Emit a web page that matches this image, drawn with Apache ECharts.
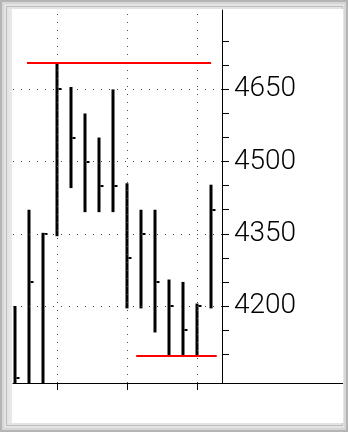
<!DOCTYPE html>
<html>
<head>
<meta charset="utf-8">
<script src="https://cdn.jsdelivr.net/npm/echarts@6/dist/echarts.min.js"></script>
<style>
  html, body { margin: 0; padding: 0; background: #fff; }
  #chart { width: 348px; height: 432px; }
</style>
</head>
<body>
<div id="chart"></div>
<script>
// Session index of each bar (left to right)
const sessions = [0, 1, 2, 3, 4, 5, 6, 7, 8, 9, 10, 11, 12, 13, 14];
// High / low / close per session
const highs  = [4200, 4400, 4352, 4705, 4655, 4600, 4550, 4650, 4455, 4400, 4400, 4255, 4250, 4205, 4452];
const lows   = [4030, 4030, 4030, 4345, 4445, 4395, 4395, 4395, 4195, 4195, 4145, 4096, 4096, 4096, 4195];
const closes = [4050, 4250, 4350, 4650, 4550, 4500, 4450, 4450, 4300, 4350, 4250, 4200, 4150, 4200, 4400];

// Price axis labels, ticks and dotted guide lines
const priceLabels = [4200, 4350, 4500, 4650];
const priceTicks = [4100, 4150, 4200, 4250, 4300, 4350, 4400, 4450, 4500, 4550, 4600, 4650, 4700, 4750];
const sessionMarks = [3, 8, 13];

// Range markers: highest high and lowest low
const rangeHigh = { value: 4705, from: 0.85, to: 14.0 };
const rangeLow  = { value: 4096, from: 8.65, to: 14.4 };

const ohlc = sessions.map((s, i) => [s, highs[i], lows[i], closes[i]]);

const chart = echarts.init(document.getElementById('chart'), null, { renderer: 'canvas' });

const GRID = { left: 13, top: 10, width: 209, height: 373 };
const dotted = { color: '#4a4a4a', width: 1, type: [1, 7] };

chart.setOption({
  animation: false,
  backgroundColor: '#d6d6d6',
  graphic: [
    { type: 'rect', z: -10, shape: { x: 1, y: 1, width: 346, height: 430 }, style: { fill: 'none', stroke: '#b4b4b4', lineWidth: 2 } },
    { type: 'rect', z: -10, shape: { x: 4, y: 4, width: 340, height: 424 }, style: { fill: '#e4e4e4' } },
    { type: 'rect', z: -10, shape: { x: 6.5, y: 6.5, width: 336, height: 419 }, style: { fill: 'none', stroke: '#bdbdbd', lineWidth: 1 } },
    { type: 'rect', z: -10, shape: { x: 9, y: 9, width: 334, height: 414 }, style: { fill: '#e8e8e8' } },
    { type: 'rect', z: -10, shape: { x: 12, y: 9, width: 331, height: 414 }, style: { fill: '#ffffff' } },
    // time axis baseline continues under the price labels
    { type: 'line', z: 5, shape: { x1: 222, y1: 383.5, x2: 343, y2: 383.5 }, style: { stroke: '#000', lineWidth: 1 } }
  ],
  grid: GRID,
  xAxis: {
    type: 'value',
    min: -0.15,
    max: 14.78,
    axisLine: { show: true, onZero: false, lineStyle: { color: '#000', width: 1 } },
    axisTick: { show: true, customValues: sessionMarks, length: 7, lineStyle: { color: '#000' } },
    axisLabel: { show: false },
    splitLine: { show: false }
  },
  yAxis: {
    type: 'value',
    position: 'right',
    min: 4040,
    max: 4815,
    axisLine: { show: true, onZero: false, lineStyle: { color: '#000', width: 1 } },
    axisTick: { show: true, customValues: priceTicks, length: 7, lineStyle: { color: '#000' } },
    axisLabel: {
      show: true,
      customValues: priceLabels,
      formatter: v => String(v),
      margin: 12,
      color: '#000',
      fontFamily: 'Roboto',
      fontSize: 28,
      fontWeight: 300
    },
    splitLine: { show: false }
  },
  series: [
    {
      // dotted guide lines
      type: 'line',
      data: [],
      z: 1,
      silent: true,
      markLine: {
        silent: true,
        symbol: 'none',
        label: { show: false },
        lineStyle: dotted,
        data: priceLabels.map(v => ({ yAxis: v })).concat(sessionMarks.map(v => ({ xAxis: v })))
      }
    },
    {
      type: 'custom',
      z: 3,
      clip: true,
      data: ohlc,
      renderItem: function (params, api) {
        const x = api.value(0);
        const pHi = api.coord([x, api.value(1)]);
        const pLo = api.coord([x, api.value(2)]);
        const pCl = api.coord([x, api.value(3)]);
        const cx = Math.round(pHi[0]);
        return {
          type: 'group',
          children: [
            { type: 'rect', shape: { x: cx - 1.5, y: pHi[1], width: 3, height: pLo[1] - pHi[1] }, style: { fill: '#000' } },
            { type: 'rect', shape: { x: cx + 1.5, y: Math.round(pCl[1]) - 1, width: 3, height: 2 }, style: { fill: '#000' } }
          ]
        };
      }
    },
    {
      // range markers
      type: 'line',
      data: [],
      z: 4,
      silent: true,
      markLine: {
        silent: true,
        symbol: 'none',
        label: { show: false },
        lineStyle: { color: '#ff0000', width: 2, type: 'solid' },
        data: [
          [{ coord: [rangeHigh.from, rangeHigh.value] }, { coord: [rangeHigh.to, rangeHigh.value] }],
          [{ coord: [rangeLow.from, rangeLow.value] }, { coord: [rangeLow.to, rangeLow.value] }]
        ]
      }
    }
  ]
});
</script>
</body>
</html>
